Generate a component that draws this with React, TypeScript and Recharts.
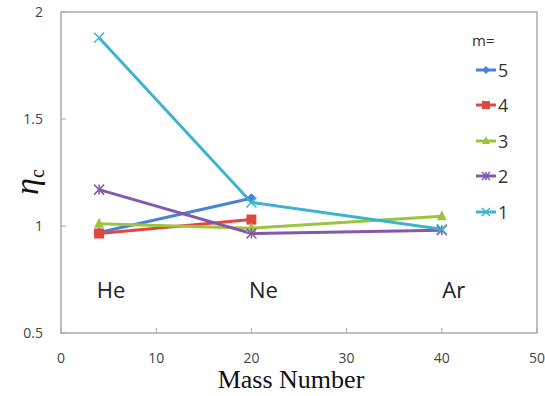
import { LineChart, Line, XAxis, YAxis, ReferenceArea, ReferenceDot, Label } from 'recharts'

const massNumbers = [4, 20, 40]
const elements = ['He', 'Ne', 'Ar']
const m5 = [0.97, 1.13, null]
const m4 = [0.965, 1.03, null]
const m3 = [1.01, 0.99, 1.045]
const m2 = [1.17, 0.965, 0.98]
const m1 = [1.88, 1.11, 0.985]
const xTicks = [0, 10, 20, 30, 40, 50]
const yTicks = [0.5, 1, 1.5, 2]

const data = massNumbers.map((mass, i) => ({
  mass,
  m5: m5[i],
  m4: m4[i],
  m3: m3[i],
  m2: m2[i],
  m1: m1[i],
}))

const series = [
  { key: 'm5', name: '5', color: '#4a82d4', shape: 'diamond' },
  { key: 'm4', name: '4', color: '#e0473f', shape: 'square' },
  { key: 'm3', name: '3', color: '#9cc43c', shape: 'triangle' },
  { key: 'm2', name: '2', color: '#8458ac', shape: 'star' },
  { key: 'm1', name: '1', color: '#3db2d2', shape: 'cross' },
]

function Marker({ cx, cy, shape, color, s = 5 }: any) {
  if (cx == null || cy == null) return null
  if (shape === 'diamond')
    return <polygon points={`${cx},${cy - s} ${cx + s},${cy} ${cx},${cy + s} ${cx - s},${cy}`} fill={color} />
  if (shape === 'square') return <rect x={cx - s} y={cy - s} width={s * 2} height={s * 2} fill={color} />
  if (shape === 'triangle')
    return <polygon points={`${cx},${cy - s - 1} ${cx + s},${cy + s - 1} ${cx - s},${cy + s - 1}`} fill={color} />
  if (shape === 'star')
    return (
      <g stroke={color} strokeWidth={1.5}>
        <line x1={cx - s} y1={cy - s} x2={cx + s} y2={cy + s} />
        <line x1={cx - s} y1={cy + s} x2={cx + s} y2={cy - s} />
        <line x1={cx} y1={cy - s} x2={cx} y2={cy + s} />
      </g>
    )
  return (
    <g stroke={color} strokeWidth={1.5}>
      <line x1={cx - s} y1={cy - s} x2={cx + s} y2={cy + s} />
      <line x1={cx - s} y1={cy + s} x2={cx + s} y2={cy - s} />
    </g>
  )
}

// tickSize 0, tickMargin 2: the axis line sits 2px from the tick anchor
function XTick({ x, y, payload }: any) {
  const axisY = y - 2
  return (
    <g>
      <line x1={x} y1={axisY} x2={x} y2={axisY - 5} stroke="#aaa" />
      <text x={x} y={axisY + 30} textAnchor="middle" fontSize={14} fill="#444" fontFamily="'Open Sans', sans-serif">
        {payload.value}
      </text>
    </g>
  )
}

function YTick({ x, y, payload }: any) {
  const axisX = x + 2
  return (
    <g>
      <line x1={axisX} y1={y} x2={axisX + 5} y2={y} stroke="#aaa" />
      <text x={axisX - 18} y={y + 5} textAnchor="end" fontSize={14} fill="#444" fontFamily="'Open Sans', sans-serif">
        {payload.value}
      </text>
    </g>
  )
}

function LegendBox() {
  return (
    <div
      style={{
        position: 'absolute',
        top: 30,
        left: 476,
        fontFamily: "'Open Sans', sans-serif",
        color: '#333',
      }}
    >
      <div style={{ fontSize: 15, height: 22, marginLeft: -4 }}>m=</div>
      {series.map(s => (
        <div key={s.key} style={{ display: 'flex', alignItems: 'center', height: 35.5 }}>
          <svg width={22} height={14}>
            <line x1={0} y1={7} x2={20} y2={7} stroke={s.color} strokeWidth={3} />
            <Marker cx={10} cy={7} shape={s.shape} color={s.color} s={4} />
          </svg>
          <span style={{ fontSize: 18 }}>{s.name}</span>
        </div>
      ))}
    </div>
  )
}

export default function App() {
  return (
    <div style={{ position: 'absolute', top: 0, left: 0, width: 545, height: 396, background: '#fff' }}>
      <LineChart width={545} height={396} data={data} margin={{ top: 12, right: 8, left: 16, bottom: 33 }}>
        <ReferenceArea x1={0} x2={50} y1={0.5} y2={2} fill="none" stroke="#aaa" strokeWidth={1.5} ifOverflow="visible" />
        <XAxis
          dataKey="mass"
          type="number"
          domain={[0, 50]}
          ticks={xTicks}
          height={30}
          axisLine={false}
          tickLine={false}
          tickSize={0}
          tick={<XTick />}
        >
          <Label
            content={() => (
              <text x={291} y={388} textAnchor="middle" fontSize={26} fill="#111" fontFamily="'Liberation Serif', serif">
                Mass Number
              </text>
            )}
          />
        </XAxis>
        <YAxis
          type="number"
          domain={[0.5, 2]}
          ticks={yTicks}
          width={45}
          axisLine={false}
          tickLine={false}
          tickSize={0}
          tick={<YTick />}
        >
          <Label
            content={() => (
              <text
                x={0}
                y={0}
                transform="translate(38,182) rotate(-90)"
                textAnchor="middle"
                fill="#111"
                fontFamily="'Liberation Serif', serif"
              >
                <tspan fontSize={34} fontStyle="italic">η</tspan>
                <tspan fontSize={20} dy={6}>c</tspan>
              </text>
            )}
          />
        </YAxis>
        {massNumbers.map((mass, i) => (
          <ReferenceDot
            key={elements[i]}
            x={mass}
            y={0.7}
            r={0}
            ifOverflow="visible"
            label={(props: any) => {
              const vb = props.viewBox || {}
              const cx = (vb.x ?? 0) + (vb.width ?? 0) / 2
              const cy = (vb.y ?? 0) + (vb.height ?? 0) / 2
              return (
                <text x={cx + 12} y={cy + 8} textAnchor="middle" fontSize={22} fill="#222" fontFamily="'Open Sans', sans-serif">
                  {elements[i]}
                </text>
              )
            }}
          />
        ))}
        {series.map(s => (
          <Line
            key={s.key}
            dataKey={s.key}
            name={s.name}
            type="linear"
            stroke={s.color}
            strokeWidth={3}
            isAnimationActive={false}
            connectNulls={false}
            dot={(p: any) => <Marker key={p.index} cx={p.cx} cy={p.cy} shape={s.shape} color={s.color} />}
            activeDot={false}
          />
        ))}
      </LineChart>
      <LegendBox />
    </div>
  )
}
